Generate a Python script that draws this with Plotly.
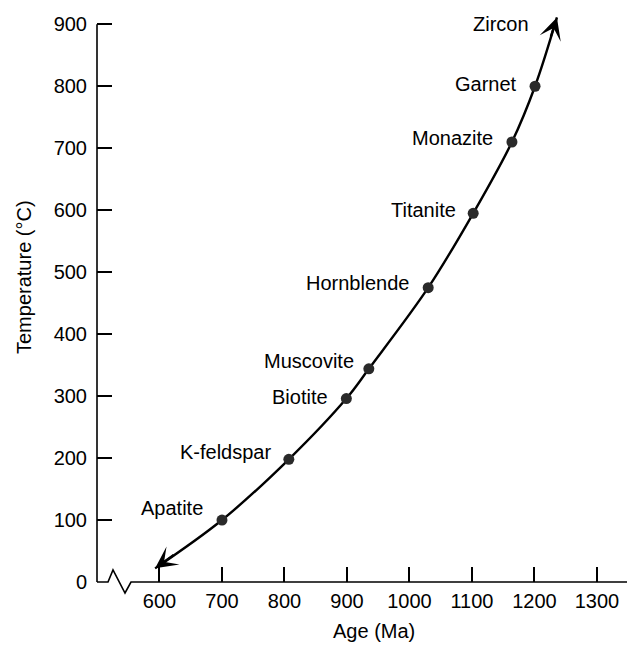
import plotly.graph_objects as go

# ---- data ----
minerals = ["Apatite", "K-feldspar", "Biotite", "Muscovite", "Hornblende",
            "Titanite", "Monazite", "Garnet"]
mineral_age = [700, 807, 899, 935, 1030, 1102, 1164, 1201]
mineral_temp = [100, 198, 296, 344, 475, 595, 710, 800]

# curve end points (arrow tips)
curve_start = (593, 22)
curve_end = (1236, 911)
curve_end_label = "Zircon"

x_ticks = [600, 700, 800, 900, 1000, 1100, 1200, 1300]
y_ticks = [0, 100, 200, 300, 400, 500, 600, 700, 800, 900]

# label offsets (px) relative to points
label_dx = [-17, -16, -16, -13, -17, -15, -17, -16]
label_dy = [12, 7, 2, 8, 5, 3, 4, 2]

# ---- layout geometry ----
W, H = 627, 645
ML, MR, MT, MB = 97, 0, 10, 63
PW, PH = W - ML - MR, H - MT - MB
XPX = 0.6249  # px per Ma
YPX = 0.6197  # px per degC
x0 = 500.0
xr = [x0, x0 + PW / XPX]
yr = [0, PH / YPX]

def px_x(p):
    return (p - ML) / PW

def px_y(p):
    return (H - MB - p) / PH

FONT = "Liberation Sans, Arial, Helvetica, sans-serif"
FS = 20

curve_x = [curve_start[0]] + mineral_age + [curve_end[0]]
curve_y = [curve_start[1]] + mineral_temp + [curve_end[1]]

fig = go.Figure()
fig.add_trace(go.Scatter(x=curve_x, y=curve_y, mode="lines",
                         line=dict(color="black", width=2.4, shape="spline", smoothing=1.0),
                         hoverinfo="skip", cliponaxis=False))
fig.add_trace(go.Scatter(x=mineral_age, y=mineral_temp, mode="markers",
                         marker=dict(color="#2a2a2a", size=11),
                         cliponaxis=False, text=minerals))

ann = []
for name, a, t, dx, dy in zip(minerals, mineral_age, mineral_temp, label_dx, label_dy):
    ann.append(dict(x=a, y=t, text=name, showarrow=False, xanchor="right",
                    yanchor="middle", xshift=dx, yshift=dy,
                    font=dict(family=FONT, size=FS, color="black")))
ann.append(dict(x=curve_end[0], y=curve_end[1], text=curve_end_label, showarrow=False,
                xanchor="right", yanchor="middle", xshift=-26, yshift=-7,
                font=dict(family=FONT, size=FS, color="black")))

# arrowheads
def arrow(tip, nxt, f=0.3):
    tx = tip[0] + f * (nxt[0] - tip[0])
    ty = tip[1] + f * (nxt[1] - tip[1])
    return dict(x=tip[0], y=tip[1], ax=tx, ay=ty, xref="x", yref="y",
                axref="x", ayref="y", text="", showarrow=True, arrowhead=3,
                arrowsize=1.6, arrowwidth=2.3, arrowcolor="black")

ann.append(arrow(curve_start, (mineral_age[0], mineral_temp[0])))
ann.append(arrow(curve_end, (mineral_age[-1], mineral_temp[-1])))

# axis titles
ann.append(dict(x=px_x(374), y=px_y(631), xref="paper", yref="paper", text="Age (Ma)",
                showarrow=False, xanchor="center", yanchor="middle",
                font=dict(family=FONT, size=FS, color="black")))
ann.append(dict(x=px_x(24), y=px_y(277), xref="paper", yref="paper",
                text="Temperature (°C)", textangle=-90,
                showarrow=False, xanchor="center", yanchor="middle",
                font=dict(family=FONT, size=FS, color="black")))

# axis lines with break
zig = ("M {a},{b} L {c},{b} L {d},{e} L {f},{g} L {h},{b} L 1,{b}").format(
    a=0, b=0, c=px_x(108), d=px_x(113), e=px_y(570), f=px_x(125), g=px_y(593), h=px_x(131))
shapes = [
    dict(type="path", path=zig, xref="paper", yref="paper",
         line=dict(color="black", width=1.6), layer="above"),
    dict(type="line", xref="paper", yref="paper", x0=0, x1=0, y0=0,
         y1=y_ticks[-1] / yr[1], line=dict(color="black", width=1.6), layer="above"),
]

fig.update_layout(
    width=W, height=H, margin=dict(l=ML, r=MR, t=MT, b=MB),
    paper_bgcolor="white", plot_bgcolor="white", showlegend=False,
    annotations=ann, shapes=shapes,
    font=dict(family=FONT, size=FS, color="black"),
    xaxis=dict(range=xr, tickvals=x_ticks, ticks="inside", ticklen=15, tickwidth=1.5,
               tickcolor="black", showline=False, showgrid=False, zeroline=False,
               ticklabelstandoff=5, tickfont=dict(family=FONT, size=FS, color="black")),
    yaxis=dict(range=yr, tickvals=y_ticks, ticks="inside", ticklen=15, tickwidth=1.5,
               tickcolor="black", showline=False, showgrid=False, zeroline=False,
               ticklabelstandoff=9, tickfont=dict(family=FONT, size=FS, color="black")),
)

fig.write_html("out.html")
